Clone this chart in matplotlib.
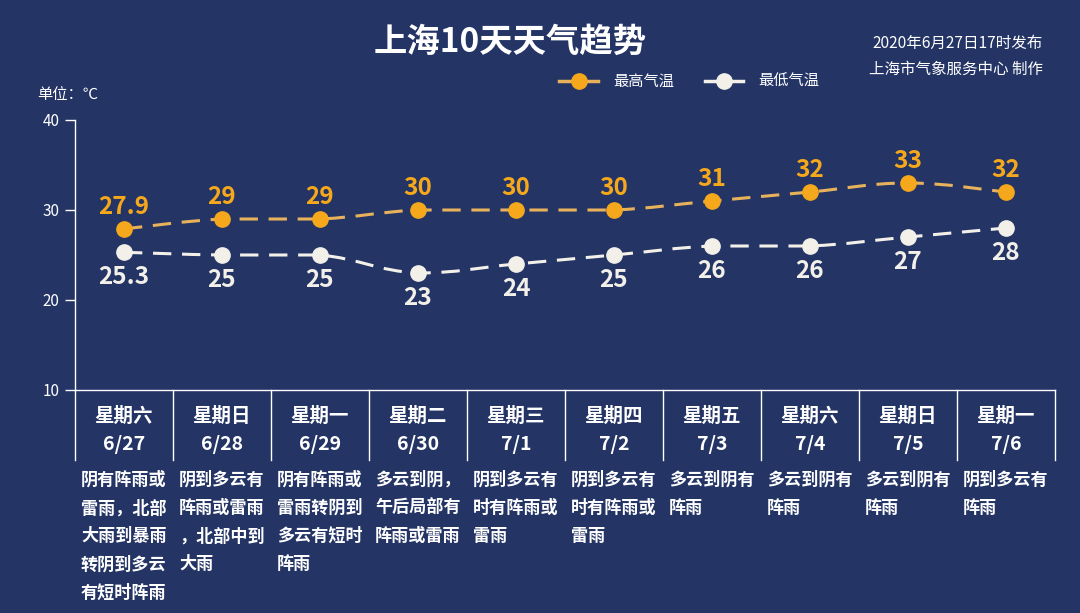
import matplotlib.pyplot as plt
from matplotlib.path import Path
from matplotlib.patches import PathPatch
from matplotlib.lines import Line2D
import numpy as np

plt.rcParams['font.family'] = ['Noto Sans CJK SC', 'DejaVu Sans']

# 数据
weekdays = ['星期六', '星期日', '星期一', '星期二', '星期三',
            '星期四', '星期五', '星期六', '星期日', '星期一']
dates = ['6/27', '6/28', '6/29', '6/30', '7/1', '7/2', '7/3', '7/4', '7/5', '7/6']
high = [27.9, 29, 29, 30, 30, 30, 31, 32, 33, 32]
low = [25.3, 25, 25, 23, 24, 25, 26, 26, 27, 28]
weather = [
    '阴有阵雨或\n雷雨，北部\n大雨到暴雨\n转阴到多云\n有短时阵雨',
    '阴到多云有\n阵雨或雷雨\n，北部中到\n大雨',
    '阴有阵雨或\n雷雨转阴到\n多云有短时\n阵雨',
    '多云到阴，\n午后局部有\n阵雨或雷雨',
    '阴到多云有\n时有阵雨或\n雷雨',
    '阴到多云有\n时有阵雨或\n雷雨',
    '多云到阴有\n阵雨',
    '多云到阴有\n阵雨',
    '多云到阴有\n阵雨',
    '阴到多云有\n阵雨',
]

bg = '#233465'
orange = '#F5A81C'
orange_line = '#E8B25C'
white = '#F3F0EA'

W, H = 1080, 613
fig = plt.figure(figsize=(W / 100, H / 100), dpi=100, facecolor=bg)
ax = fig.add_axes([75 / W, 1 - 390 / H, 980 / W, 270 / H])
ax.set_facecolor(bg)
ax.set_xlim(0, 10)
ax.set_ylim(10, 40)

x = np.arange(len(high)) + 0.5


# 平滑曲线（控制点限制在两端点之间，平段不起伏）
def smooth_path(xs, ys, s=0.2):
    pts = np.column_stack([xs, ys]).astype(float)
    verts = [tuple(pts[0])]
    codes = [Path.MOVETO]
    n = len(pts)
    for i in range(n - 1):
        p_prev = pts[max(i - 1, 0)]
        p0 = pts[i]
        p1 = pts[i + 1]
        p_next = pts[min(i + 2, n - 1)]
        c1 = p0 + (p1 - p_prev) * s
        c2 = p1 - (p_next - p0) * s
        lo, hi = min(p0[1], p1[1]), max(p0[1], p1[1])
        c1[1] = np.clip(c1[1], lo, hi)
        c2[1] = np.clip(c2[1], lo, hi)
        verts += [tuple(c1), tuple(c2), tuple(p1)]
        codes += [Path.CURVE4] * 3
    return Path(verts, codes)


for ys, lc, mc in [(high, orange_line, orange), (low, white, white)]:
    patch = PathPatch(smooth_path(x, ys), facecolor='none', edgecolor=lc,
                      lw=2.2, linestyle=(0, (6, 3.5)), zorder=2)
    ax.add_patch(patch)
    ax.plot(x, ys, 'o', ms=11, color=mc, mec=mc, zorder=3)

for xi, v in zip(x, high):
    ax.annotate(f'{v:g}', (xi, v), xytext=(0, 16), textcoords='offset points',
                ha='center', va='center', fontsize=17.5, fontweight='bold', color=orange)
for xi, v in zip(x, low):
    ax.annotate(f'{v:g}', (xi, v), xytext=(0, -18), textcoords='offset points',
                ha='center', va='center', fontsize=17.5, fontweight='bold', color=white)

# 坐标轴
for sp in ['top', 'right']:
    ax.spines[sp].set_visible(False)
for sp in ['left', 'bottom']:
    ax.spines[sp].set_color('white')
    ax.spines[sp].set_linewidth(1)
ax.set_xticks([])
ax.set_yticks([10, 20, 30, 40])
ax.tick_params(axis='y', colors='white', length=7, width=1, labelsize=11, pad=4)

# 下方表格
trans = ax.get_xaxis_transform()
for i in range(len(high) + 1):
    ax.plot([i, i], [0, -70 / 270], transform=trans, color='white', lw=1, clip_on=False)
for i in range(len(high)):
    ax.text(i + 0.5, -(416 - 390) / 270, weekdays[i], transform=trans, ha='center',
            va='center', fontsize=14, fontweight='bold', color='white')
    ax.text(i + 0.5, -(445 - 390) / 270, dates[i], transform=trans, ha='center',
            va='center', fontsize=14, fontweight='bold', color='white')
    ax.text(i + 6 / 98, -(471 - 390) / 270, weather[i], transform=trans, ha='left',
            va='top', fontsize=12.3, fontweight='bold', color='white', linespacing=1.72)

# 标题和说明
fig.text(510 / W, 1 - 42 / H, '上海10天天气趋势', ha='center', va='center',
         fontsize=24, fontweight='bold', color='white')
fig.text(1043 / W, 1 - 43 / H, '2020年6月27日17时发布', ha='right', va='center',
         fontsize=11.2, color='white')
fig.text(1043 / W, 1 - 69 / H, '上海市气象服务中心 制作', ha='right', va='center',
         fontsize=11.2, color='white')
fig.text(37 / W, 1 - 94 / H, '单位：℃', ha='left', va='center', fontsize=11, color='white')

# 图例
ly = 1 - 81 / H
for x0, x1, lc, mc, label in [(559, 598, orange_line, orange, '最高气温'),
                               (705, 743, white, white, '最低气温')]:
    fig.add_artist(Line2D([x0 / W, x1 / W], [ly, ly], color=lc, lw=2.5))
    fig.add_artist(Line2D([(x0 + x1) / 2 / W], [ly], marker='o', ms=11, color=mc))
    fig.text((x1 + 15) / W, ly, label, ha='left', va='center', fontsize=11, color='white')

fig.savefig('out.png', dpi=100, facecolor=bg)
